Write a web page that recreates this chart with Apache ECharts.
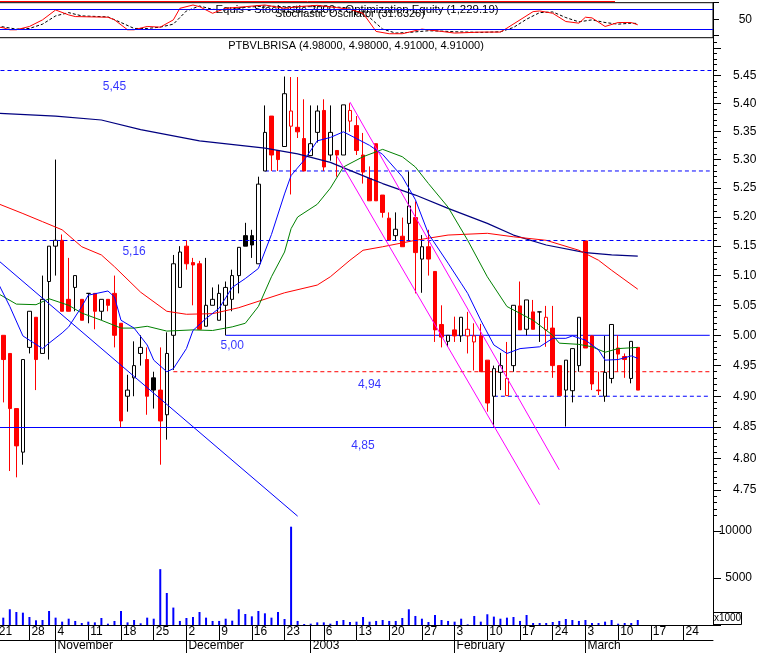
<!DOCTYPE html>
<html><head><meta charset="utf-8">
<script src="https://cdn.jsdelivr.net/npm/echarts@6/dist/echarts.min.js"></script>
<style>html,body{margin:0;padding:0;background:#fff}#c{width:760px;height:653px}</style>
</head><body><div id="c"></div>
<script>
// ---------------- DATA ----------------
const HOLIDAYS = ['2002-11-01','2002-12-25','2002-12-26','2002-12-31','2003-01-01'];
const FIRST_DAY = '2002-10-21', LAST_DAY = '2003-03-28';
const FIRST_BAR = '2002-10-22';
// weekly day labels on the date row
const DAY_LABELS = ['2002-10-21','2002-10-28','2002-11-04','2002-11-11','2002-11-18','2002-11-25','2002-12-02','2002-12-09','2002-12-16','2002-12-23','2003-01-06','2003-01-13','2003-01-20','2003-01-27','2003-02-03','2003-02-10','2003-02-17','2003-02-24','2003-03-03','2003-03-10','2003-03-17','2003-03-24'];
const MONTH_STARTS = [['2002-11-04','November'],['2002-12-02','December'],['2003-01-02','2003'],['2003-02-03','February'],['2003-03-03','March']];

// daily bars from FIRST_BAR: [open, close, low, high]
const ohlc = [
[5.00,4.96,4.89,5.00],[4.97,4.88,4.78,4.97],[4.88,4.82,4.77,4.88],[4.81,4.96,4.79,4.96],[4.98,5.04,4.97,5.04],
[5.03,4.96,4.91,5.03],[4.97,5.06,4.97,5.10],[5.09,5.15,4.96,5.15],[5.15,5.16,5.10,5.30],[5.16,5.04,5.04,5.17],
[5.06,5.04,5.04,5.13],[5.08,5.10,5.04,5.10],[5.06,5.025,5.025,5.06],[5.07,5.07,5.02,5.07],[5.07,5.04,5.01,5.07],
[5.04,5.06,5.025,5.06],[5.06,5.05,5.04,5.06],[5.07,5.00,4.98,5.10],[5.02,4.86,4.85,5.02],[4.90,4.91,4.875,4.935],
[4.93,4.95,4.90,4.99],[4.97,4.98,4.95,5.00],[4.96,4.90,4.87,4.98],[4.93,4.91,4.88,4.94],[4.91,4.86,4.79,4.98],
[4.87,4.97,4.83,5.005],[5.00,5.12,4.943,5.135],[5.08,5.14,5.08,5.15],[5.15,5.12,5.11,5.16],[5.122,5.118,5.05,5.13],
[5.12,5.01,5.01,5.125],[5.015,5.05,5.015,5.13],[5.05,5.06,5.05,5.08],[5.025,5.07,5.025,5.085],[5.05,5.08,5.00,5.09],
[5.06,5.10,5.04,5.11],[5.10,5.148,5.07,5.148],[5.168,5.15,5.15,5.19],[5.168,5.152,5.13,5.178],[5.12,5.257,5.12,5.27],
[5.28,5.348,5.28,5.396],[5.377,5.308,5.28,5.377],[5.316,5.30,5.28,5.316],[5.323,5.417,5.323,5.448],[5.359,5.386,5.239,5.447],
[5.357,5.349,5.338,5.447],[5.337,5.28,5.28,5.407],[5.307,5.328,5.307,5.396],[5.348,5.386,5.33,5.396],[5.387,5.287,5.28,5.407],
[5.308,5.348,5.298,5.396],[5.316,5.308,5.27,5.316],[5.308,5.397,5.308,5.397],[5.368,5.387,5.349,5.40],[5.36,5.316,5.308,5.377],
[5.308,5.278,5.258,5.347],[5.267,5.228,5.228,5.288],[5.328,5.228,5.228,5.328],[5.238,5.208,5.199,5.238],[5.198,5.16,5.16,5.208],
[5.168,5.179,5.16,5.208],[5.167,5.149,5.149,5.199],[5.189,5.219,5.16,5.279],[5.199,5.139,5.07,5.227],[5.128,5.149,5.071,5.169],
[5.149,5.128,5.10,5.178],[5.107,5.009,4.989,5.107],[5.018,4.997,4.98,5.05],[4.99,5.00,4.981,5.00],[5.009,4.999,4.989,5.031],
[4.999,5.03,4.989,5.03],[4.999,5.01,4.97,5.039],[4.989,4.999,4.942,5.02],[4.999,4.94,4.94,5.019],[4.959,4.889,4.875,4.959],
[4.90,4.945,4.851,4.95],[4.939,4.95,4.91,4.971],[4.901,4.929,4.901,4.989],[4.95,5.05,4.94,5.05],[5.049,5.009,5.009,5.09],
[5.01,5.059,5.00,5.059],[5.039,5.01,5.01,5.059],[5.039,5.039,4.989,5.039],[5.009,5.03,4.981,5.049],[5.012,4.95,4.93,5.049],
[4.95,4.901,4.901,4.95],[4.91,4.959,4.851,4.959],[4.909,4.978,4.89,4.978],[4.95,5.03,4.94,5.03],[5.159,4.979,4.979,5.159],
[4.999,4.92,4.91,5.00],[4.91,4.909,4.902,4.94],[4.90,4.939,4.891,4.999],[4.929,5.018,4.921,5.018],[4.979,4.969,4.94,5.00],
[4.965,4.96,4.93,4.97],[4.929,4.99,4.921,4.99],[4.98,4.91,4.91,4.98]
];

// volume (x1000) from FIRST_BAR
const volume = [
780,1670,1380,1310,850,500,530,1490,780,355,
670,430,210,355,280,745,140,430,1490,280,
530,180,780,670,5930,3400,1850,430,745,850,
1380,780,430,430,670,460,1670,1170,920,1490,
1240,780,1380,640,10440,430,100,140,280,280,
140,430,530,320,355,850,355,430,530,430,
430,745,1670,960,670,320,1065,530,430,355,
670,70,960,355,1140,890,670,780,850,430,
1065,210,210,210,320,430,640,530,430,530,
210,210,355,530,140,210,210,530
];

// moving averages: [day index into days[], value]
const maNavy = [[0,5.382],[9,5.377],[16,5.37],[22,5.353],[31,5.333],[41,5.32],[46,5.31],[51,5.295],[57,5.267],[59,5.258],[64,5.238],[69,5.215],[75,5.189],[79,5.169],[84,5.152],[90,5.139],[94,5.135],[98,5.133]];
const maRed = [[0,5.224],[4,5.206],[7,5.192],[10,5.178],[13,5.149],[16,5.135],[18,5.115],[22,5.072],[26,5.04],[29,5.035],[33,5.036],[37,5.046],[44,5.071],[49,5.084],[51,5.098],[54,5.126],[56,5.143],[59,5.149],[64,5.16],[69,5.169],[75,5.172],[79,5.166],[84,5.16],[89,5.143],[92,5.126],[94,5.109],[98,5.077]];
const maGreen = [[0,5.071],[3,5.052],[6,5.051],[8,5.061],[11,5.05],[13,5.037],[16,5.025],[19,5.012],[21,5.012],[23,5.015],[26,5.007],[30,5.009],[33,5.008],[36,5.014],[38,5.02],[40,5.048],[42,5.098],[44,5.14],[45,5.18],[46,5.2],[49,5.222],[51,5.25],[53,5.287],[56,5.305],[59,5.318],[62,5.305],[64,5.287],[66,5.258],[69,5.217],[72,5.16],[75,5.098],[78,5.048],[82,5.025],[85,5.0],[86,4.987],[89,4.985],[91,4.981],[93,4.972],[95,4.978],[98,4.98]];
const maBlue = [[0,5.092],[2,5.048],[4,4.999],[7,4.978],[8,4.987],[10,5.004],[11,5.014],[13,5.048],[14,5.067],[17,5.074],[18,5.064],[19,5.025],[21,5.012],[23,4.984],[24,4.959],[26,4.94],[27,4.945],[29,4.978],[30,5.008],[32,5.028],[34,5.045],[36,5.08],[38,5.095],[40,5.112],[42,5.17],[44,5.24],[45,5.272],[47,5.299],[49,5.333],[51,5.339],[53,5.349],[55,5.337],[57,5.325],[59,5.309],[62,5.27],[64,5.23],[66,5.171],[69,5.121],[71,5.087],[72,5.07],[74,5.025],[76,4.984],[78,4.97],[80,4.978],[83,4.981],[85,4.995],[87,4.995],[88,4.999],[90,4.992],[92,4.976],[93,4.959],[95,4.96],[97,4.966],[98,4.962]];

// stochastic oscillator %K (red) and %D (black dashed)
const stochK = [[0,27],[1,24],[2,18],[3,18],[5,28],[7,48],[9,78],[11,63],[12,58],[17,56],[18,48],[20,18],[21,18],[23,28],[25,26],[27,48],[28,83],[30,93],[31,88],[33,68],[35,83],[38,88],[41,93],[44,83],[46,88],[49,92],[52,85],[54,80],[56,68],[58,13],[60,6],[62,6],[65,20],[68,13],[70,8],[74,11],[77,11],[78,23],[80,48],[82,73],[83,75],[85,68],[87,43],[89,38],[90,56],[91,54],[93,28],[95,40],[97,40],[98,33]];
const stochD = [[0,30],[3,20],[5,22],[7,35],[9,60],[11,70],[13,60],[17,57],[19,40],[21,22],[23,22],[25,26],[27,35],[29,75],[31,90],[33,80],[35,78],[38,86],[41,90],[44,88],[47,88],[51,88],[54,84],[57,55],[59,20],[61,8],[63,10],[66,15],[68,14],[70,12],[74,10],[77,12],[79,25],[81,50],[83,70],[85,72],[87,55],[89,42],[91,48],[93,40],[95,35],[97,38],[98,37]];
const stochLevels = [80, 20];

// horizontal price levels: [price, from day index (null = full width), kind]
const levels = [[5.456,null,'dashBlue'],[5.28,41,'dashBlue'],[5.16,null,'dashBlue'],[5.00,35,'solidBlue'],[4.94,27,'dashRed'],[4.90,76,'dashBlue'],[4.85,null,'solidBlue']];
const levelNotes = [['5,45',18,5.429],['5,16',21,5.140],['5,00',36,4.982],['4,94',57,4.918],['4,85',56,4.820]];
// trend lines: [[day, price],[day, price]]
const trendBlue = [[0,5.128],[46,4.709]];
const trendMagenta = [[[54,5.402],[86,4.782]],[[52,5.306],[83,4.727]]];

const TITLE = 'PTBVLBRISA (4.98000, 4.98000, 4.91000, 4.91000)';
const STOCH_TITLE1 = 'Equis - Stochastic 2000 - Optimization Equity (1,229.19)';
const STOCH_TITLE2 = 'Stochastic Oscillator (31.6326)';

// ---------------- BUILD ----------------
function buildDays() {
  const out = [];
  let t = Date.UTC(+FIRST_DAY.slice(0,4), +FIRST_DAY.slice(5,7)-1, +FIRST_DAY.slice(8,10));
  const end = Date.UTC(+LAST_DAY.slice(0,4), +LAST_DAY.slice(5,7)-1, +LAST_DAY.slice(8,10));
  while (t <= end) {
    const d = new Date(t), wd = d.getUTCDay(), s = d.toISOString().slice(0,10);
    if (wd !== 0 && wd !== 6 && HOLIDAYS.indexOf(s) < 0) out.push(s);
    t += 86400000;
  }
  return out;
}
const days = buildDays();
const firstIdx = days.indexOf(FIRST_BAR);
const lastIdx = days.length - 1;
const dayLabelSet = new Set(DAY_LABELS);
const monthMap = new Map(MONTH_STARTS);
const dayTickSet = new Set(DAY_LABELS.concat(MONTH_STARTS.map(m => m[0])));

const RED = '#ff0000', BLACK = '#000000', BLUE = '#0000ff';
const FONT = 'Liberation Sans, Arial, sans-serif';

const candleData = days.map((d, n) => {
  const k = n - firstIdx;
  if (k < 0 || k >= ohlc.length) return '-';
  const col = (k > 0 && ohlc[k][1] > ohlc[k-1][1]) ? BLACK : RED;
  const fill = ohlc[k][1] > ohlc[k][0] ? '#ffffff' : col;
  return { value: ohlc[k].slice(), itemStyle: { color: fill, color0: fill, borderColor: col, borderColor0: col } };
});
const volData = days.map((d, n) => {
  const k = n - firstIdx;
  return (k >= 0 && k < volume.length) ? volume[k] : '-';
});

function lineStyleOf(kind) {
  if (kind === 'dashBlue') return { color: BLUE, type: [4, 3], width: 1, opacity: 1 };
  if (kind === 'dashRed') return { color: RED, type: [4, 3], width: 1, opacity: 1 };
  return { color: BLUE, type: 'solid', width: 1, opacity: 1 };
}
const fullLevels = levels.filter(l => l[1] === null).map(([p, f, kind]) => ({ yAxis: p, lineStyle: lineStyleOf(kind) }));
const partLevels = levels.filter(l => l[1] !== null);
const solid = c => ({ color: c, width: 1, type: 'solid', opacity: 1 });
const trendLines = [
  [{ coord: trendBlue[0], lineStyle: solid(BLUE) }, { coord: trendBlue[1], lineStyle: solid(BLUE) }]
].concat(trendMagenta.map(t => [{ coord: t[0], lineStyle: solid('#ff00ff') }, { coord: t[1], lineStyle: solid('#ff00ff') }]));

const minorTicks = [], majorTicks = [], majorLabels = [];
for (let k = 471; k <= 551; k++) minorTicks.push(k / 100);
for (let k = 95; k <= 110; k++) { majorTicks.push(k * 5 / 100); if (k <= 109) majorLabels.push(k * 5 / 100); }

const PMIN = 4.703, PMAX = 5.518;
const G = { left: -6.54, right: 47, outerBoundsMode: 'none', containLabel: false };
const axisBlack = { show: true, lineStyle: { color: '#000', width: 1 } };

const levelSeries = partLevels.map(([p, from, kind]) => ({
  type: 'line', xAxisIndex: 1, yAxisIndex: 1, data: [[from, p], [lastIdx, p]],
  showSymbol: false, symbol: 'none', z: 2, silent: true, lineStyle: lineStyleOf(kind)
}));

const option = {
  animation: false,
  backgroundColor: '#ffffff',
  textStyle: { fontFamily: FONT },
  grid: [
    Object.assign({ top: 2.7, height: 35, show: true, borderColor: '#000', borderWidth: 1, backgroundColor: 'transparent' }, G),
    Object.assign({ top: 38, height: 482 }, G),
    Object.assign({ top: 520, height: 105 }, G)
  ],
  xAxis: [
    { type: 'category', gridIndex: 0, data: days, show: false },
    { type: 'category', gridIndex: 1, data: days, show: false },
    { type: 'category', gridIndex: 2, data: days, position: 'bottom',
      axisLine: axisBlack,
      axisTick: { show: true, alignWithLabel: true, length: 15, interval: (i, v) => dayTickSet.has(v), lineStyle: { color: '#000' } },
      axisLabel: { interval: (i, v) => dayLabelSet.has(v), formatter: v => String(+v.slice(8)), align: 'left', margin: 1, padding: [0,0,0,2], color: '#000', fontSize: 12, fontFamily: FONT },
      splitLine: { show: false } },
    { type: 'category', gridIndex: 2, data: days, position: 'bottom', offset: 15,
      axisLine: axisBlack,
      axisTick: { show: true, alignWithLabel: true, length: 13, interval: (i, v) => monthMap.has(v), lineStyle: { color: '#000' } },
      axisLabel: { interval: (i, v) => monthMap.has(v), formatter: v => monthMap.get(v) || '', align: 'left', margin: 0, padding: [0,0,0,2], color: '#000', fontSize: 12, fontFamily: FONT },
      splitLine: { show: false } }
  ],
  yAxis: [
    { type: 'value', gridIndex: 0, position: 'right', min: -6, max: 100,
      axisLine: axisBlack,
      axisTick: { show: true, customValues: [0, 50, 100], length: 6, lineStyle: { color: '#000' } },
      axisLabel: { customValues: [50], align: 'right', margin: 39, color: '#000', fontSize: 12, fontFamily: FONT },
      splitLine: { show: false } },
    { type: 'log', gridIndex: 1, position: 'right', min: PMIN, max: PMAX,
      axisLine: axisBlack,
      axisTick: { show: true, customValues: minorTicks, length: 4, lineStyle: { color: '#000' } },
      axisLabel: { customValues: majorLabels, formatter: v => (+v).toFixed(2), margin: 20, color: '#000', fontSize: 12, fontFamily: FONT },
      splitLine: { show: false } },
    { type: 'log', gridIndex: 1, position: 'right', min: PMIN, max: PMAX,
      axisLine: { show: false },
      axisTick: { show: true, customValues: majorTicks, length: 8, lineStyle: { color: '#000' } },
      axisLabel: { show: false }, splitLine: { show: false } },
    { type: 'value', gridIndex: 2, position: 'right', min: 0, max: 11150, interval: 5000,
      axisLine: axisBlack,
      axisTick: { show: true, length: 8, lineStyle: { color: '#000' } },
      axisLabel: { formatter: v => v ? String(v) : '', align: 'right', margin: 39, showMaxLabel: false, color: '#000', fontSize: 12, fontFamily: FONT },
      splitLine: { show: false } }
  ],
  series: [
    { type: 'candlestick', xAxisIndex: 1, yAxisIndex: 1, data: candleData, barWidth: 4, z: 2,
      itemStyle: { borderWidth: 1 } },
    { type: 'line', xAxisIndex: 1, yAxisIndex: 1, data: [], symbol: 'none', z: 2,
      markLine: { silent: true, symbol: ['none','none'], label: { show: false }, animation: false,
        data: fullLevels.concat(trendLines) } }
  ].concat(levelSeries, [
    { type: 'line', xAxisIndex: 1, yAxisIndex: 1, data: maNavy, showSymbol: false, symbol: 'none', z: 3, lineStyle: { color: '#000080', width: 1.2 } },
    { type: 'line', xAxisIndex: 1, yAxisIndex: 1, data: maRed, showSymbol: false, symbol: 'none', z: 3, lineStyle: { color: RED, width: 1 } },
    { type: 'line', xAxisIndex: 1, yAxisIndex: 1, data: maGreen, showSymbol: false, symbol: 'none', z: 3, lineStyle: { color: '#008000', width: 1 } },
    { type: 'line', xAxisIndex: 1, yAxisIndex: 1, data: maBlue, showSymbol: false, symbol: 'none', z: 3, lineStyle: { color: BLUE, width: 1 } },
    { type: 'scatter', xAxisIndex: 1, yAxisIndex: 1, symbolSize: 0, z: 4,
      data: levelNotes.map(([t, d, p]) => ({ name: t, value: [d, p] })),
      label: { show: true, formatter: '{b}', position: 'inside', color: BLUE, fontSize: 12, fontFamily: FONT } },
    { type: 'bar', xAxisIndex: 2, yAxisIndex: 3, data: volData, barWidth: 2, itemStyle: { color: BLUE } },
    { type: 'line', xAxisIndex: 0, yAxisIndex: 0, data: stochD, showSymbol: false, symbol: 'none', z: 3, lineStyle: { color: '#000', width: 1, type: [3, 2] } },
    { type: 'line', xAxisIndex: 0, yAxisIndex: 0, data: stochK, showSymbol: false, symbol: 'none', z: 4, lineStyle: { color: RED, width: 1 },
      markLine: { silent: true, symbol: ['none','none'], label: { show: false }, animation: false,
        data: stochLevels.map(v => ({ yAxis: v, lineStyle: { color: BLUE, width: 1, type: 'solid', opacity: 1 } })) } }
  ]),
  graphic: [
    { type: 'line', shape: { x1: 0, y1: 1.5, x2: 615, y2: 1.5 }, style: { stroke: RED, lineWidth: 1 }, silent: true },
    { type: 'text', x: 357, y: 10, silent: true, style: { text: STOCH_TITLE1, font: '11.4px ' + FONT, fill: '#000', textAlign: 'center', textVerticalAlign: 'middle' } },
    { type: 'text', x: 350, y: 13.5, silent: true, style: { text: STOCH_TITLE2, font: '11px ' + FONT, fill: '#000', textAlign: 'center', textVerticalAlign: 'middle' } },
    { type: 'text', x: 356, y: 46, silent: true, style: { text: TITLE, font: '11px ' + FONT, fill: '#000', textAlign: 'center', textVerticalAlign: 'middle' } },
    { type: 'rect', shape: { x: 713.5, y: 612.5, width: 28, height: 12 }, style: { fill: '#fff', stroke: '#000', lineWidth: 1 }, silent: true },
    { type: 'text', x: 727.5, y: 618.5, silent: true, style: { text: 'x1000', font: '10px ' + FONT, fill: '#000', textAlign: 'center', textVerticalAlign: 'middle' } }
  ]
};
const chart = echarts.init(document.getElementById('c'), null, { renderer: 'canvas' });
chart.setOption(option);
</script>
</body></html>
